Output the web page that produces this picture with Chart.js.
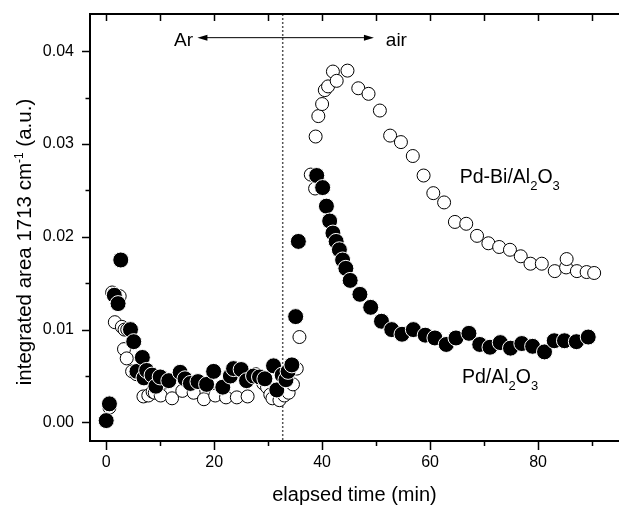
<!DOCTYPE html>
<html lang="en">
<head>
<meta charset="UTF-8">
<title>Integrated area vs elapsed time</title>
<script src="https://cdn.jsdelivr.net/npm/chart.js"></script>
<style>
  html, body { margin: 0; padding: 0; background: #fff; }
  canvas { display: block; }
</style>
</head>
<body>
<canvas id="areaChart" width="619" height="505"></canvas>
<script>
// Pd/Al2O3 (filled circles)
var timePd = [0.0, 0.6, 1.5, 2.2, 2.7, 4.5, 5.1, 5.7, 6.7, 7.0, 7.5, 8.5, 9.2, 10.0, 11.6,
    13.7, 14.6, 15.6, 17.0, 18.6, 19.9, 21.6, 23.0, 23.6, 25.0, 26.0, 27.3, 28.4, 29.4,
    31.0, 31.6, 32.6, 33.3, 33.7, 34.4, 35.1, 35.6,
    39.0, 40.1, 40.8, 41.4, 42.0, 42.6, 43.2, 43.8, 44.4, 45.2, 47.0, 49.0, 51.0, 52.9,
    54.8, 56.9, 59.1, 60.9, 63.0, 64.8, 67.2, 69.2, 71.1, 73.0, 74.9, 77.0, 79.0, 81.2,
    83.0, 84.9, 87.1, 89.3];
var areaPd = [0.0002, 0.0020, 0.0137, 0.0128, 0.0175, 0.0100, 0.0087, 0.0055, 0.0070, 0.0048, 0.0056, 0.0051, 0.0039, 0.0049, 0.0045,
    0.0054, 0.0047, 0.0042, 0.0044, 0.0041, 0.0055, 0.0038, 0.0050, 0.0058, 0.0057, 0.0045, 0.0050, 0.0049, 0.0047,
    0.0061, 0.0035, 0.0051, 0.0046, 0.0055, 0.0062, 0.0114, 0.0195,
    0.0266, 0.0253, 0.0233, 0.0217, 0.0204, 0.0195, 0.0186, 0.0175, 0.0166, 0.0153, 0.0138, 0.0124, 0.0109, 0.0100,
    0.0095, 0.0100, 0.0094, 0.0091, 0.0084, 0.0091, 0.0096, 0.0084, 0.0081, 0.0086, 0.0080, 0.0085, 0.0082, 0.0076,
    0.0088, 0.0088, 0.0087, 0.0092];

// Pd-Bi/Al2O3 (open circles)
var timePdBi = [0.0, 0.6, 1.1, 1.8, 2.5, 1.6, 2.9, 3.4, 3.9, 3.3, 3.8, 4.8, 5.6, 6.9, 7.8, 8.6, 9.0,
    10.1, 10.8, 12.2, 14.1, 16.2, 18.1, 20.2, 22.2, 24.2, 26.2, 27.7, 28.5, 29.1, 29.8, 30.4,
    30.8, 32.1, 33.0, 33.8, 34.6, 35.3, 35.8,
    37.9, 38.7, 38.8, 39.3, 40.0, 40.5, 41.1, 42.0, 42.7, 44.7, 46.7, 48.6, 50.7, 52.6,
    54.6, 56.8, 58.8, 60.6, 62.6, 64.6, 66.7, 68.7, 70.8, 72.8, 74.8, 76.8, 78.6, 80.7,
    83.1, 85.2, 85.3, 87.2, 89.0, 90.4];
var areaPdBi = [0.0001, 0.0016, 0.0140, 0.0137, 0.0136, 0.0108, 0.0103, 0.0100, 0.0100, 0.0079, 0.0069, 0.0055, 0.0052, 0.0028, 0.0029, 0.0033, 0.0032,
    0.0029, 0.0043, 0.0026, 0.0034, 0.0032, 0.0025, 0.0029, 0.0027, 0.0027, 0.0028, 0.0052, 0.0050, 0.0042, 0.0038, 0.0030,
    0.0026, 0.0024, 0.0029, 0.0032, 0.0041, 0.0058, 0.0092,
    0.0267, 0.0252, 0.0308, 0.0330, 0.0343, 0.0358, 0.0362, 0.0378, 0.0368, 0.0379, 0.0360, 0.0354, 0.0336, 0.0309,
    0.0302, 0.0287, 0.0266, 0.0247, 0.0237, 0.0216, 0.0214, 0.0201, 0.0193, 0.0189, 0.0186, 0.0179, 0.0171, 0.0171,
    0.0163, 0.0167, 0.0176, 0.0163, 0.0162, 0.0161];

// tick labels
var xTickLabels = [0, 20, 40, 60, 80];
var yTickLabels = ['0.00', '0.01', '0.02', '0.03', '0.04'];

var FONT = "'Liberation Sans', Arial, sans-serif";
Chart.defaults.font.family = FONT;

function toPoints(xs, ys) {
    return xs.map((x, i) => ({ x: x, y: ys[i] }));
}

// text with sub/superscripts: parts = [[text, shift]], shift >0 down, <0 up
function drawParts(ctx, parts, x, y, size, smallSize) {
    var cx = x;
    parts.forEach(p => {
        var small = p[1] !== 0;
        ctx.font = (small ? smallSize : size) + 'px ' + FONT;
        ctx.fillText(p[0], cx, y + p[1]);
        cx += ctx.measureText(p[0]).width;
    });
}
function partsWidth(ctx, parts, size, smallSize) {
    var w = 0;
    parts.forEach(p => {
        ctx.font = (p[1] !== 0 ? smallSize : size) + 'px ' + FONT;
        w += ctx.measureText(p[0]).width;
    });
    return w;
}

var framePlugin = {
    id: 'frame',
    beforeDatasetsDraw(chart) {
        var ctx = chart.ctx, a = chart.chartArea;
        var px = chart.scales.x.getPixelForValue(32.7);
        ctx.save();
        ctx.strokeStyle = '#555';
        ctx.lineWidth = 1.5;
        ctx.setLineDash([2, 2]);
        ctx.beginPath();
        ctx.moveTo(px, a.top);
        ctx.lineTo(px, a.bottom);
        ctx.stroke();
        ctx.restore();
    },
    afterDraw(chart) {
        var ctx = chart.ctx, a = chart.chartArea;
        var xs = chart.scales.x, ys = chart.scales.y;
        ctx.save();
        ctx.strokeStyle = '#000';
        ctx.fillStyle = '#000';

        // frame: left, bottom, top
        ctx.lineWidth = 2;
        ctx.beginPath();
        ctx.moveTo(a.right + 2, a.top);
        ctx.lineTo(a.left, a.top);
        ctx.lineTo(a.left, a.bottom);
        ctx.lineTo(a.right + 2, a.bottom);
        ctx.stroke();

        // tick marks
        ctx.lineWidth = 1.5;
        ctx.beginPath();
        xs.ticks.forEach(t => {
            var px = Math.round(xs.getPixelForValue(t.value)) + 0.5;
            var major = t.label !== '';
            ctx.moveTo(px, a.bottom);
            ctx.lineTo(px, a.bottom + (major ? 9 : 5));
            ctx.moveTo(px, a.top);
            ctx.lineTo(px, a.top + 7);
        });
        ys.ticks.forEach(t => {
            var py = Math.round(ys.getPixelForValue(t.value)) + 0.5;
            var major = t.label !== '';
            ctx.moveTo(a.left, py);
            ctx.lineTo(a.left - (major ? 8 : 4.5), py);
        });
        ctx.stroke();

        // arrow Ar <-> air
        var ay = ys.getPixelForValue(0.04145);
        var ax1 = xs.getPixelForValue(16.9), ax2 = xs.getPixelForValue(49.6);
        ctx.lineWidth = 1;
        ctx.beginPath();
        ctx.moveTo(ax1 + 6, ay);
        ctx.lineTo(ax2 - 6, ay);
        ctx.stroke();
        ctx.beginPath();
        ctx.moveTo(ax1, ay); ctx.lineTo(ax1 + 10, ay - 3); ctx.lineTo(ax1 + 10, ay + 3); ctx.closePath();
        ctx.moveTo(ax2, ay); ctx.lineTo(ax2 - 10, ay - 3); ctx.lineTo(ax2 - 10, ay + 3); ctx.closePath();
        ctx.fill();

        var ty = ys.getPixelForValue(0.0405);
        ctx.font = '19px ' + FONT;
        ctx.textBaseline = 'alphabetic';
        ctx.textAlign = 'right';
        ctx.fillText('Ar', xs.getPixelForValue(16.1), ty);
        ctx.textAlign = 'left';
        ctx.fillText('air', xs.getPixelForValue(51.8), ty);

        // series labels
        drawParts(ctx, [['Pd-Bi/Al', 0], ['2', 7], ['O', 0], ['3', 7]],
            xs.getPixelForValue(65.5), ys.getPixelForValue(0.0258), 19.5, 13);
        drawParts(ctx, [['Pd/Al', 0], ['2', 7], ['O', 0], ['3', 7]],
            xs.getPixelForValue(65.9), ys.getPixelForValue(0.00425), 19.5, 13);

        // x title
        ctx.font = '20px ' + FONT;
        ctx.textAlign = 'center';
        ctx.fillText('elapsed time (min)', (a.left + a.right) / 2, 501);

        // y title (rotated, with superscript)
        var yParts = [['integrated area 1713 cm', 0], ['-1', -8], [' (a.u.)', 0]];
        ctx.textAlign = 'left';
        var w = partsWidth(ctx, yParts, 20.5, 12);
        ctx.translate(31, 242);
        ctx.rotate(-Math.PI / 2);
        drawParts(ctx, yParts, -w / 2, 0, 20.5, 12);
        ctx.restore();
    }
};

var ctx = document.getElementById('areaChart').getContext('2d');
var areaChart = new Chart(ctx, {
    type: 'scatter',
    data: {
        datasets: [{
            label: 'Pd/Al2O3',
            data: toPoints(timePd, areaPd),
            order: 0,
            pointRadius: 8,
            pointBackgroundColor: '#000',
            pointBorderColor: '#fff',
            pointBorderWidth: 1
        }, {
            label: 'Pd-Bi/Al2O3',
            data: toPoints(timePdBi, areaPdBi),
            order: 1,
            pointRadius: 6.5,
            pointBackgroundColor: '#fff',
            pointBorderColor: '#000',
            pointBorderWidth: 1
        }]
    },
    options: {
        responsive: false,
        animation: false,
        layout: { autoPadding: false, padding: { top: 14, right: 0, left: 0, bottom: 0 } },
        plugins: {
            legend: { display: false },
            tooltip: { enabled: false }
        },
        scales: {
            x: {
                type: 'linear',
                min: -3,
                max: 95,
                grid: { display: false, drawTicks: false },
                border: { display: false },
                ticks: {
                    stepSize: 10,
                    includeBounds: false,
                    autoSkip: false,
                    maxRotation: 0,
                    padding: 12,
                    color: '#000',
                    font: { size: 16 },
                    callback: v => xTickLabels.includes(v) ? String(v) : ''
                },
                afterFit: s => { s.height = 64; s.paddingLeft = 0; s.paddingRight = 0; }
            },
            y: {
                type: 'linear',
                min: -0.002,
                max: 0.044,
                grid: { display: false, drawTicks: false },
                border: { display: false },
                ticks: {
                    stepSize: 0.005,
                    includeBounds: false,
                    autoSkip: false,
                    padding: 16,
                    color: '#000',
                    font: { size: 16 },
                    callback: v => {
                        var lab = v.toFixed(2);
                        return (Math.abs(v - parseFloat(lab)) < 1e-9 && yTickLabels.includes(lab)) ? lab : '';
                    }
                },
                afterFit: s => { s.width = 90; s.paddingTop = 0; s.paddingBottom = 0; }
            }
        }
    },
    plugins: [framePlugin]
});
</script>
</body>
</html>
